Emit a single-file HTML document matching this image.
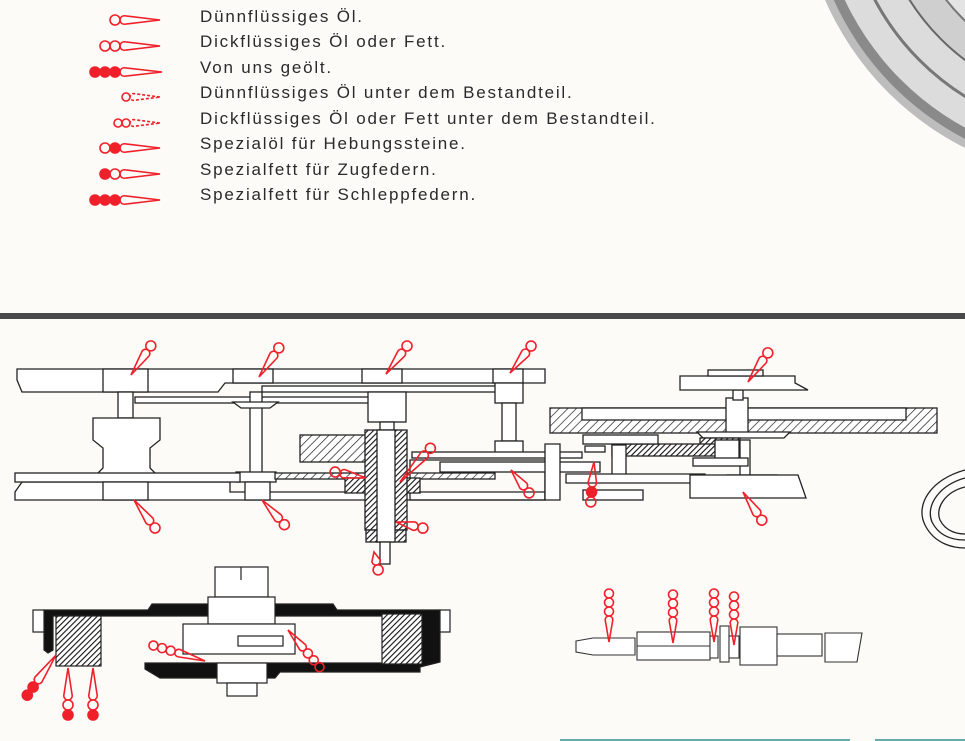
<!DOCTYPE html>
<html><head><meta charset="utf-8"><style>
html,body{margin:0;padding:0;background:#fcfbf8;}
#w{position:relative;width:965px;height:741px;overflow:hidden;background:#fcfbf8;}
.t{position:absolute;left:200px;font-family:"Liberation Sans",sans-serif;font-size:17px;color:#2a2a2a;letter-spacing:1.8px;white-space:nowrap;}
svg{position:absolute;left:0;top:0;}
</style></head><body><div id="w">
<svg id="s" width="965" height="741" viewBox="0 0 965 741">
<defs>
<pattern id="h" width="6" height="6" patternUnits="userSpaceOnUse" patternTransform="rotate(45)"><rect width="6" height="6" fill="#fff"/><line x1="0" y1="0" x2="0" y2="6" stroke="#222" stroke-width="1.4"/></pattern>
<pattern id="hd" width="4" height="4" patternUnits="userSpaceOnUse" patternTransform="rotate(45)"><rect width="4" height="4" fill="#fff"/><line x1="0" y1="0" x2="0" y2="4" stroke="#111" stroke-width="2.2"/></pattern>
</defs>
<circle cx="1100" cy="-120" r="300" fill="#bdbdbd"/>
<circle cx="1100" cy="-120" r="292" fill="#8a8a8a"/>
<circle cx="1100" cy="-120" r="282" fill="#dcdcdc"/>
<circle cx="1100" cy="-120" r="255" fill="none" stroke="#777" stroke-width="3"/>
<circle cx="1100" cy="-120" r="225" fill="#cfcfcf" stroke="#666" stroke-width="2"/>
<circle cx="1100" cy="-120" r="195" fill="#e4e4e4" stroke="#777" stroke-width="2"/>
<rect x="0" y="313" width="965" height="6" fill="#4a4a4a"/>
<g fill="#fff" stroke="#222" stroke-width="1.3">
<path d="M17,369 L545,369 L545,383 L225,383 L218,392 L22,392 L17,380 Z"/>
<rect x="103" y="369" width="45" height="23"/>
<rect x="233" y="369" width="40" height="14"/>
<rect x="362" y="369" width="40" height="14"/>
<rect x="493" y="369" width="30" height="14"/>
<rect x="135" y="397" width="240" height="6"/>
<rect x="262" y="386" width="240" height="6"/>
<rect x="118" y="392" width="15" height="26"/>
<path d="M93,418 L160,418 L160,440 L150,448 L150,468 L160,478 L93,478 L103,468 L103,448 L93,440 Z"/>
<rect x="250" y="392" width="12" height="85"/>
<path d="M233,402 L278,402 L270,408 L241,408 Z"/>
<rect x="236" y="472" width="40" height="10"/>
<rect x="368" y="392" width="38" height="30"/>
<rect x="380" y="422" width="14" height="30"/>
<rect x="495" y="383" width="28" height="20"/>
<rect x="502" y="403" width="14" height="38"/>
<rect x="495" y="441" width="28" height="16"/>
<path d="M15,492 L22,482 L230,482 L230,492 L545,492 L545,500 L15,500 Z"/>
<rect x="15" y="473" width="225" height="9"/>
<rect x="103" y="482" width="45" height="18"/>
<rect x="245" y="482" width="25" height="18"/>
<rect x="275" y="473" width="220" height="6" fill="url(#h)"/>
<path d="M410,460 L545,460 L545,500 L410,500 Z" fill="none"/>
<rect x="300" y="435" width="70" height="27" fill="url(#h)"/>
<rect x="345" y="478" width="75" height="15" fill="url(#hd)"/>
<rect x="365" y="430" width="42" height="100" fill="url(#hd)"/>
<rect x="366" y="530" width="40" height="12" fill="url(#hd)"/>
<rect x="377" y="430" width="18" height="112"/>
<rect x="380" y="542" width="10" height="22"/>
<rect x="412" y="452" width="170" height="6"/>
<rect x="440" y="462" width="160" height="10"/>
<rect x="550" y="408" width="387" height="25" fill="url(#h)"/>
<rect x="582" y="408" width="324" height="12"/>
<rect x="726" y="398" width="22" height="35"/>
<rect x="733" y="390" width="10" height="10"/>
<path d="M680,376 L795,376 L795,383 L808,390 L680,390 Z"/>
<rect x="708" y="370" width="55" height="6"/>
<path d="M697,432 L790,432 L784,438 L703,438 Z"/>
<rect x="700" y="438" width="40" height="10" fill="url(#hd)"/>
<rect x="612" y="444" width="110" height="12" fill="url(#hd)"/>
<rect x="715" y="440" width="24" height="25"/>
<rect x="740" y="440" width="10" height="40"/>
<rect x="693" y="458" width="55" height="8"/>
<rect x="583" y="435" width="75" height="9"/>
<rect x="612" y="445" width="14" height="35"/>
<rect x="585" y="446" width="20" height="6"/>
<rect x="727" y="475" width="50" height="12"/>
<path d="M566,474 L705,474 L705,483 L566,483 Z"/>
<rect x="583" y="490" width="60" height="10"/>
<path d="M690,475 L798,475 L806,498 L690,498 Z"/>
<path d="M545,500 L545,444 L560,444 L560,500 Z"/>
<path d="M965,470 C930,480 915,505 925,525 C935,545 955,548 965,548" fill="none"/>
<path d="M965,478 C940,485 925,505 932,522 C940,538 955,540 965,540" fill="none"/>
<path d="M965,487 C945,492 935,508 940,520 C946,532 958,534 965,534" fill="none"/>
</g>
<g stroke="#222" stroke-width="1.2">
<rect x="215" y="567" width="53" height="30" fill="#fff"/>
<line x1="241" y1="567" x2="241" y2="580"/>
<path d="M44,610 L148,610 L152,604 L333,604 L337,610 L440,610 L440,662 L420,667 L420,672 L280,672 L275,678 L160,678 L145,669 L145,663 L420,663 L420,616 L53,616 L53,650 L48,653 L44,650 Z" fill="#111"/>
<rect x="33" y="610" width="11" height="22" fill="#fff"/>
<rect x="440" y="610" width="10" height="22" fill="#fff"/>
<rect x="56" y="616" width="45" height="50" fill="url(#hd)" stroke="#222"/>
<rect x="382" y="614" width="40" height="50" fill="url(#hd)"/>
<rect x="208" y="597" width="67" height="27" fill="#fff"/>
<rect x="183" y="624" width="112" height="30" fill="#fff"/>
<rect x="238" y="636" width="45" height="10" fill="#fff"/>
<rect x="217" y="663" width="50" height="20" fill="#fff"/>
<rect x="227" y="683" width="30" height="13" fill="#fff"/>
</g>
<g fill="#fff" stroke="#333" stroke-width="1.1">
<path d="M576,641 L593,638 L635,638 L635,655 L593,655 L576,652 Z"/>
<rect x="637" y="632" width="73" height="28"/>
<line x1="637" y1="646" x2="710" y2="646"/>
<rect x="710" y="636" width="8" height="22"/>
<rect x="720" y="626" width="9" height="36"/>
<rect x="729" y="636" width="10" height="22"/>
<rect x="740" y="627" width="37" height="38"/>
<rect x="777" y="634" width="45" height="22"/>
<path d="M825,633 L862,633 L857,662 L825,662 Z"/>
</g>
<line x1="560" y1="740" x2="850" y2="740" stroke="#6aa" stroke-width="2"/>
<line x1="875" y1="740" x2="965" y2="740" stroke="#6aa" stroke-width="2"/>
<g id="oil"></g>
</svg>
<div class="t" style="top:7px">Dünnflüssiges Öl.</div>
<div class="t" style="top:32px">Dickflüssiges Öl oder Fett.</div>
<div class="t" style="top:58px">Von uns geölt.</div>
<div class="t" style="top:83px">Dünnflüssiges Öl unter dem Bestandteil.</div>
<div class="t" style="top:109px">Dickflüssiges Öl oder Fett unter dem Bestandteil.</div>
<div class="t" style="top:134px">Spezialöl für Hebungssteine.</div>
<div class="t" style="top:160px">Spezialfett für Zugfedern.</div>
<div class="t" style="top:185px">Spezialfett für Schleppfedern.</div>
</div>
<script>
var R="#f0202a",g=document.getElementById("oil"),NS="http://www.w3.org/2000/svg";
function el(n,a){var e=document.createElementNS(NS,n);for(var k in a)e.setAttribute(k,a[k]);g.appendChild(e);return e;}
function oil(tx,ty,cx,cy,circ,r,dash){r=r||4.5;var dx=cx-tx,dy=cy-ty,L=Math.hypot(dx,dy),ux=dx/L,uy=dy/L,px=-uy,py=ux;
var w=r*0.85,bx=tx+ux*(L-w),by=ty+uy*(L-w);
var d="M"+tx+","+ty+" L"+(bx+px*w)+","+(by+py*w)+" A"+w+","+w+" 0 0 0 "+(bx-px*w)+","+(by-py*w)+" Z";
el("path",{d:d,fill:"none",stroke:R,"stroke-width":1.6,"stroke-dasharray":dash||"none"});
for(var i=0;i<circ.length;i++){var c=L+r*(1+2*i);el("circle",{cx:tx+ux*c,cy:ty+uy*c,r:r,fill:circ[i]?R:"none",stroke:R,"stroke-width":1.6});}}
var ly=[20,46,72,97,123,148,174,200];
oil(160,ly[0],120,ly[0],[0],5);
oil(160,ly[1],120,ly[1],[0,0],5);
oil(162,ly[2],120,ly[2],[1,1,1],5);
oil(160,ly[3],130,ly[3],[0],4,"3,2");
oil(160,ly[4],130,ly[4],[0,0],4,"3,2");
oil(160,ly[5],120,ly[5],[1,0],5);
oil(160,ly[6],120,ly[6],[0,1],5);
oil(160,ly[7],120,ly[7],[1,1,1],5);
oil(131,375,148,350,[0],5);oil(259,377,276,352,[0],5);oil(386,374,404,350,[0],5);oil(510,373,528,350,[0],5);oil(748,382,765,357,[0],5);
oil(134,500,152,524,[0],5);oil(262,500,281,521,[0],5);oil(743,492,759,516,[0],5);
oil(396,522,418,527,[0],5);oil(374,552,377,565,[0],5);oil(366,478,340,473,[0],5);oil(400,482,427,452,[0],5);oil(511,470,526,489,[0],5);
oil(594,462,592,487,[1,0],5);
oil(56,655,36,683,[1,1],5);oil(68,668,68,700,[0,1],5);oil(93,668,93,700,[0,1],5);
oil(205,661,175,652,[0,0,0],4.5);oil(288,630,305,650,[0,0,0],4.5);
oil(609,642,609,616,[0,0,0],4.5);oil(673,643,673,617,[0,0,0],4.5);oil(714,642,714,616,[0,0,0],4.5);oil(734,645,734,619,[0,0,0],4.5);
</script>
</body></html>
